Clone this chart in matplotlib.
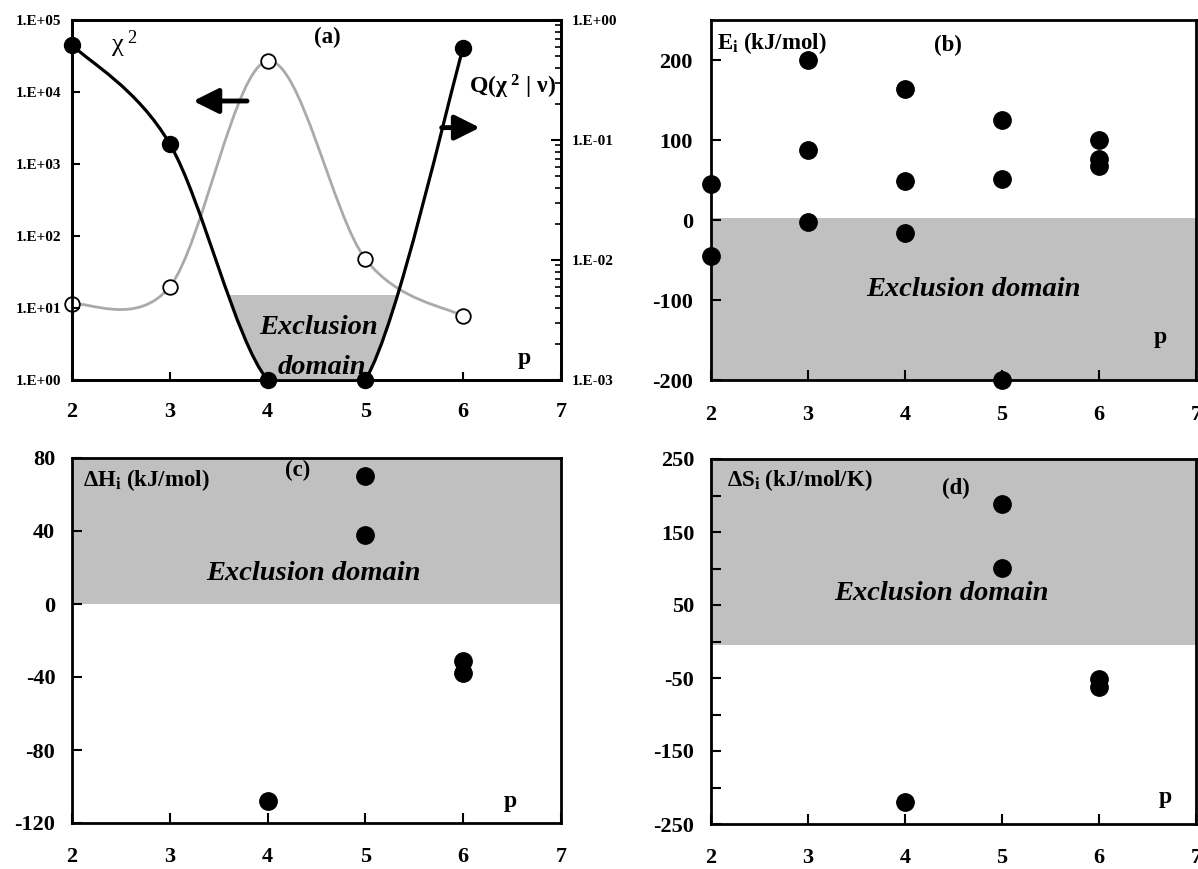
import numpy as np
import matplotlib
matplotlib.use("Agg")
import matplotlib.pyplot as plt
from matplotlib.path import Path
from matplotlib.patches import PathPatch, Rectangle
from matplotlib.ticker import FixedLocator, FuncFormatter, LogLocator, NullLocator

plt.rcParams["font.family"] = ["Liberation Serif", "DejaVu Serif"]
plt.rcParams["font.weight"] = "bold"
plt.rcParams["axes.unicode_minus"] = False
plt.rcParams["mathtext.fontset"] = "custom"
plt.rcParams["mathtext.rm"] = "Liberation Serif"
plt.rcParams["mathtext.it"] = "Liberation Serif:italic"
plt.rcParams["mathtext.bf"] = "Liberation Serif:bold"

# (a) goodness of fit against number of terms p
p_fit = [2, 3, 4, 5, 6]
chi2 = [4.5e4, 1.9e3, 1.0, 1.0, 4.1e4]
q_prob = [4.3e-3, 6.0e-3, 0.455, 1.02e-2, 3.4e-3]
chi2_limit = 15

# (b) activation energies
p_e = [2, 2, 3, 3, 3, 4, 4, 4, 5, 5, 5, 6, 6, 6]
e_i = [45, -45, 200, 88, -2, 164, 49, -16, 125, 51, -200, 100, 76, 68]

# (c) enthalpies
p_h = [4, 5, 5, 6, 6]
dh_i = [-108, 70, 38, -31, -38]

# (d) entropies
p_s = [4, 5, 5, 6, 6]
ds_i = [-220, 188, 101, -52, -62]

x_ticks = [2, 3, 4, 5, 6, 7]
shade = "#c0c0c0"
W, H = 1198, 869


def smooth_path(x, y):
    # cubic Bezier through the points, built in (x, log10 y)
    pts = np.column_stack([np.asarray(x, float), np.log10(y)])
    n = len(pts)
    verts = [pts[0]]
    codes = [Path.MOVETO]
    for i in range(n - 1):
        p0 = pts[max(i - 1, 0)]
        p1 = pts[i]
        p2 = pts[i + 1]
        p3 = pts[min(i + 2, n - 1)]
        verts += [p1 + (p2 - p0) / 6, p2 - (p3 - p1) / 6, p2]
        codes += [Path.CURVE4] * 3
    verts = np.array(verts)
    verts[:, 1] = 10 ** verts[:, 1]
    return verts, codes


def label(px, py, s, **kw):
    kw.setdefault("ha", "center")
    kw.setdefault("va", "center")
    fig.text(px / W, 1 - py / H, s, **kw)


def frame(ax):
    for sp in ax.spines.values():
        sp.set_linewidth(2)
    ax.set_xlim(2, 7)
    ax.xaxis.set_major_locator(FixedLocator(x_ticks))


fig = plt.figure(figsize=(W / 100, H / 100), dpi=100)

# ---- (a) ----
ax_a = fig.add_axes([72 / W, 1 - 380 / H, 489 / W, 360 / H])
ax_q = ax_a.twinx()
ax_a.set_zorder(ax_q.get_zorder() + 1)
ax_a.patch.set_visible(False)
frame(ax_a)
for sp in ax_q.spines.values():
    sp.set_linewidth(2)

verts, codes = smooth_path(p_fit, chi2)
ax_a.add_patch(PathPatch(Path(verts, codes), fill=False, lw=2.3, ec="black", zorder=3))

box = Rectangle((2, 1), 5, chi2_limit - 1, fc=shade, ec="none", zorder=1)
ax_a.add_patch(box)
above = Path(np.vstack([verts, [[6, 1e7], [2, 1e7], [2, 1e7]]]),
             codes + [Path.LINETO, Path.LINETO, Path.CLOSEPOLY])
box.set_clip_path(PathPatch(above, transform=ax_a.transData))

ax_a.plot(p_fit, chi2, "o", color="black", ms=11.5, clip_on=False, zorder=4)

vq, cq = smooth_path(p_fit, q_prob)
ax_q.add_patch(PathPatch(Path(vq, cq), fill=False, lw=2, ec="#aaaaaa"))
ax_q.plot(p_fit, q_prob, "o", mfc="white", mec="black", mew=1.3, ms=10.5,
          clip_on=False, zorder=4)

ax_a.set_yscale("log")
ax_a.set_ylim(1, 1e5)
ax_a.set_xlim(2, 7)
ax_q.set_yscale("log")
ax_q.set_ylim(1e-3, 1)

sci = FuncFormatter(lambda v, pos: f"1.E{int(round(np.log10(v))):+03d}")
ax_a.yaxis.set_major_locator(FixedLocator([1, 10, 1e2, 1e3, 1e4, 1e5]))
ax_a.yaxis.set_minor_locator(NullLocator())
ax_a.yaxis.set_major_formatter(sci)
ax_q.yaxis.set_major_locator(FixedLocator([1e-3, 1e-2, 1e-1, 1]))
ax_q.yaxis.set_minor_locator(LogLocator(base=10, subs=np.arange(2, 10)))
ax_q.yaxis.set_major_formatter(sci)
ax_a.tick_params(axis="y", direction="in", length=6, width=1.5, labelsize=11, pad=8)
ax_a.tick_params(axis="x", direction="in", length=6, width=1.5, labelsize=16, pad=16)
ax_q.tick_params(axis="y", which="major", direction="in", length=7, width=1.5,
                 labelsize=11, pad=8)
ax_q.tick_params(axis="y", which="minor", direction="in", length=4, width=1.2)

ax_a.annotate("", xy=(3.24, 7.5e3), xytext=(3.79, 7.5e3),
              arrowprops=dict(arrowstyle="-|>", lw=3.5, color="black",
                              mutation_scale=38, shrinkA=0, shrinkB=0))
ax_a.annotate("", xy=(6.17, 3.2e3), xytext=(5.78, 3.2e3),
              arrowprops=dict(arrowstyle="-|>", lw=3.5, color="black",
                              mutation_scale=38, shrinkA=0, shrinkB=0))

label(327, 37, "(a)", fontsize=16.5)
label(124, 44, r"$\mathregular{\chi^{\ 2}}$", fontsize=19, fontweight="normal")
label(513, 87, r"Q($\mathregular{\chi^{\ 2}\ |\ \nu}$)", fontsize=17)
label(524, 358, "p", fontsize=17)
label(319, 328, "Exclusion", fontsize=20.5, style="italic")
label(322, 367, "domain", fontsize=20.5, style="italic")

# ---- (b) ----
ax_b = fig.add_axes([711 / W, 1 - 380 / H, 485 / W, 360 / H])
frame(ax_b)
ax_b.axhspan(-200, 3, color=shade, lw=0, zorder=0)
ax_b.plot(p_e, e_i, "o", color="black", ms=12.5, clip_on=False, zorder=4)
ax_b.set_ylim(-200, 250)
ax_b.yaxis.set_major_locator(FixedLocator([-200, -100, 0, 100, 200]))
ax_b.tick_params(axis="y", direction="in", length=7, width=1.5, labelsize=16, pad=13)
ax_b.tick_params(axis="x", direction="in", length=7, width=1.5, labelsize=16, pad=18)
label(717, 43, r"E$_\mathbf{i}$ (kJ/mol)", fontsize=16.5, ha="left")
label(948, 45, "(b)", fontsize=16.5)
label(973, 290, "Exclusion domain", fontsize=20.5, style="italic")
label(1160, 338, "p", fontsize=17)

# ---- (c) ----
ax_c = fig.add_axes([72 / W, 1 - 823 / H, 489 / W, 365 / H])
frame(ax_c)
ax_c.axhspan(0, 80, color=shade, lw=0, zorder=0)
ax_c.plot(p_h, dh_i, "o", color="black", ms=12.5, clip_on=False, zorder=4)
ax_c.set_ylim(-120, 80)
ax_c.yaxis.set_major_locator(FixedLocator([-120, -80, -40, 0, 40, 80]))
ax_c.tick_params(axis="y", direction="in", length=7, width=1.5, labelsize=16, pad=12)
ax_c.tick_params(axis="x", direction="in", length=7, width=1.5, labelsize=16, pad=17)
label(83, 480, r"ΔH$_\mathbf{i}$ (kJ/mol)", fontsize=16.5, ha="left")
label(298, 470, "(c)", fontsize=16.5)
label(313, 573, "Exclusion domain", fontsize=20.5, style="italic")
label(510, 802, "p", fontsize=17)

# ---- (d) ----
ax_d = fig.add_axes([711 / W, 1 - 824 / H, 485 / W, 365 / H])
frame(ax_d)
ax_d.axhspan(-5, 250, color=shade, lw=0, zorder=0)
ax_d.plot(p_s, ds_i, "o", color="black", ms=12.5, clip_on=False, zorder=4)
ax_d.set_ylim(-250, 250)
ax_d.yaxis.set_major_locator(FixedLocator([-250, -150, -50, 50, 150, 250]))
ax_d.yaxis.set_minor_locator(FixedLocator([-200, -100, 0, 100, 200]))
ax_d.tick_params(axis="y", which="both", direction="in", length=7, width=1.5,
                 labelsize=16, pad=12)
ax_d.tick_params(axis="x", direction="in", length=7, width=1.5, labelsize=16, pad=17)
label(727, 480, r"ΔS$_\mathbf{i}$ (kJ/mol/K)", fontsize=16.5, ha="left")
label(956, 488, "(d)", fontsize=16.5)
label(941, 593, "Exclusion domain", fontsize=20.5, style="italic")
label(1165, 798, "p", fontsize=17)

fig.savefig("out.png", dpi=100)
